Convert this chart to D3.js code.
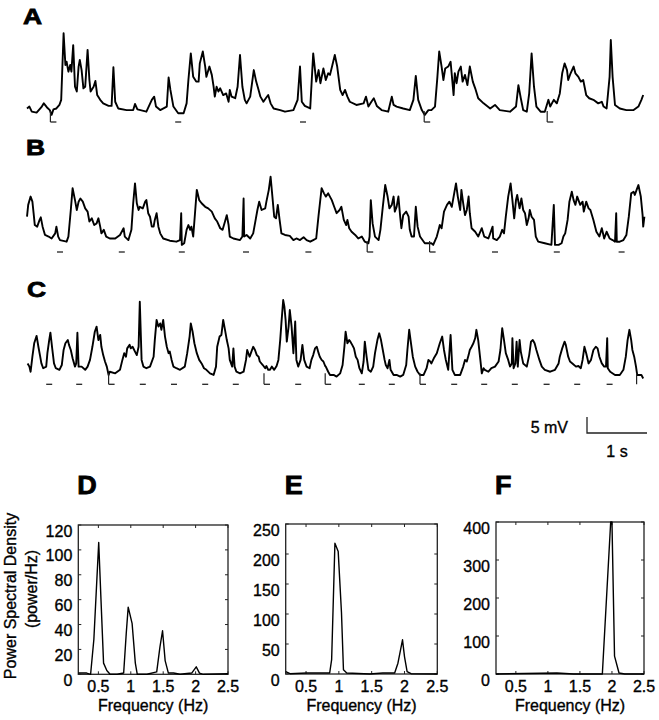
<!DOCTYPE html>
<html>
<head>
<meta charset="utf-8">
<script src="https://cdn.jsdelivr.net/npm/d3@7"></script>
<style>
  body { margin: 0; background: #fff; }
  text { font-family: "Liberation Sans", Arial, sans-serif; fill: #000; stroke: #000; stroke-width: 0.35px; }
  text.panel { stroke-width: 0.8px; }
</style>
</head>
<body>
<svg id="fig" width="659" height="720"></svg>
<script>
// membrane potential traces: [time (s), mV above resting level]
const traceA = [[0.00,1.1],[0.04,1.7],[0.08,0.1],[0.16,-0.2],[0.24,1.5],[0.28,2.7],[0.33,1.5],[0.38,0.6],[0.41,-0.9],[0.44,0.8],[0.49,1.1],[0.54,2.2],[0.57,3.8],[0.61,24.6],[0.64,14.7],[0.66,15.7],[0.69,12.6],[0.72,14.7],[0.74,12.6],[0.77,20.9],[0.80,7.9],[0.83,6.4],[0.86,14.2],[0.88,16.3],[0.91,13.1],[0.94,7.4],[0.97,7.9],[1.01,19.4],[1.04,10.0],[1.06,6.4],[1.11,7.9],[1.14,9.7],[1.17,5.3],[1.22,3.8],[1.27,2.7],[1.36,1.9],[1.41,1.9],[1.44,14.0],[1.47,3.2],[1.52,1.1],[1.66,0.6],[1.77,0.6],[1.80,2.5],[1.84,0.8],[1.99,0.1],[2.08,3.8],[2.12,4.8],[2.15,1.7],[2.22,0.6],[2.33,1.7],[2.36,10.8],[2.39,6.9],[2.44,1.7],[2.52,-0.4],[2.61,-0.4],[2.66,2.7],[2.69,10.0],[2.73,18.3],[2.77,11.0],[2.82,9.5],[2.86,9.5],[2.88,15.2],[2.93,18.9],[2.97,14.2],[2.99,11.0],[3.04,14.2],[3.08,11.6],[3.11,7.9],[3.13,4.8],[3.16,7.9],[3.19,6.4],[3.22,7.4],[3.27,5.3],[3.32,5.8],[3.36,3.2],[3.38,6.9],[3.41,4.8],[3.47,4.3],[3.51,7.9],[3.55,17.8],[3.59,7.9],[3.63,3.8],[3.66,2.7],[3.72,4.8],[3.78,13.1],[3.82,9.5],[3.86,6.9],[3.89,4.8],[3.94,3.2],[3.98,4.3],[4.02,5.3],[4.06,2.7],[4.11,1.1],[4.22,0.6],[4.30,0.1],[4.44,0.6],[4.51,3.8],[4.55,14.2],[4.58,3.2],[4.63,1.9],[4.72,1.1],[4.77,18.3],[4.82,9.5],[4.86,13.1],[4.89,9.0],[4.94,13.6],[4.98,10.0],[5.02,12.1],[5.05,11.6],[5.09,14.7],[5.13,17.8],[5.17,14.2],[5.22,6.9],[5.26,5.3],[5.30,6.9],[5.34,4.8],[5.38,3.2],[5.49,2.2],[5.61,2.7],[5.65,4.8],[5.69,1.7],[5.74,3.2],[5.78,4.3],[5.83,1.9],[5.91,0.6],[6.02,0.1],[6.08,4.8],[6.11,2.2],[6.16,1.7],[6.27,1.1],[6.38,0.6],[6.44,3.8],[6.48,11.3],[6.52,3.8],[6.58,0.6],[6.63,-0.9],[6.69,0.6],[6.74,0.6],[6.80,1.7],[6.84,11.0],[6.87,18.9],[6.91,14.2],[6.94,10.0],[6.97,13.6],[7.02,14.2],[7.06,15.7],[7.11,5.3],[7.13,12.1],[7.16,9.0],[7.19,12.6],[7.23,14.2],[7.26,9.5],[7.30,11.6],[7.34,8.4],[7.38,14.2],[7.43,9.5],[7.47,7.4],[7.52,4.3],[7.61,2.7],[7.72,1.1],[7.80,2.2],[7.88,0.6],[8.05,0.1],[8.15,1.7],[8.19,8.4],[8.23,4.3],[8.27,0.6],[8.33,0.1],[8.37,5.8],[8.41,18.3],[8.45,7.9],[8.49,1.7],[8.56,0.1],[8.63,0.1],[8.69,3.8],[8.72,1.7],[8.78,3.8],[8.83,2.7],[8.88,5.8],[8.92,12.1],[8.96,15.2],[9.00,13.1],[9.02,10.0],[9.06,12.1],[9.11,14.2],[9.14,12.1],[9.19,11.0],[9.23,9.5],[9.27,10.0],[9.32,5.3],[9.37,4.3],[9.44,3.8],[9.52,2.7],[9.58,3.2],[9.61,1.7],[9.66,1.1],[9.71,11.0],[9.73,22.5],[9.76,11.0],[9.80,2.2],[9.88,1.1],[9.99,0.6],[10.11,0.6],[10.19,1.7],[10.24,3.8],[10.27,5.3]];

const traceB = [[0.00,7.9],[0.02,11.6],[0.06,14.2],[0.09,12.6],[0.11,9.0],[0.13,5.3],[0.17,4.8],[0.21,6.9],[0.23,7.7],[0.26,4.8],[0.30,2.2],[0.36,1.7],[0.41,1.1],[0.47,2.7],[0.49,4.8],[0.52,1.7],[0.55,0.6],[0.66,0.1],[0.69,1.7],[0.73,10.0],[0.76,16.8],[0.80,13.1],[0.83,10.0],[0.86,12.6],[0.89,13.6],[0.93,12.6],[0.97,10.5],[1.01,9.5],[1.04,6.4],[1.08,7.4],[1.12,5.3],[1.16,5.8],[1.19,7.4],[1.22,4.8],[1.24,2.7],[1.28,3.8],[1.32,1.7],[1.38,1.1],[1.47,1.1],[1.55,2.2],[1.61,4.3],[1.63,1.7],[1.69,0.6],[1.74,3.8],[1.77,12.1],[1.80,18.3],[1.83,12.1],[1.86,10.0],[1.88,11.0],[1.93,10.5],[1.97,12.6],[1.99,13.1],[2.02,9.0],[2.05,7.9],[2.08,4.8],[2.11,4.8],[2.13,6.9],[2.16,9.0],[2.19,4.8],[2.22,2.7],[2.27,1.1],[2.38,0.4],[2.49,0.1],[2.55,0.6],[2.57,9.0],[2.58,-0.9],[2.62,-0.4],[2.66,3.8],[2.69,5.3],[2.72,3.8],[2.74,4.8],[2.77,1.7],[2.80,9.0],[2.83,16.3],[2.87,13.1],[2.91,12.1],[2.97,11.0],[3.02,10.5],[3.08,9.5],[3.13,7.4],[3.17,6.4],[3.22,4.3],[3.26,3.8],[3.30,6.4],[3.33,8.4],[3.36,5.3],[3.38,1.7],[3.44,1.1],[3.55,0.6],[3.59,1.7],[3.61,13.6],[3.62,1.7],[3.66,2.2],[3.72,1.1],[3.77,2.7],[3.80,5.8],[3.84,10.0],[3.87,12.6],[3.91,10.0],[3.97,10.5],[3.99,12.6],[4.03,16.3],[4.06,20.4],[4.09,14.2],[4.12,7.9],[4.15,7.4],[4.18,11.6],[4.21,6.9],[4.24,2.7],[4.30,2.2],[4.38,1.9],[4.44,0.6],[4.49,1.1],[4.55,0.6],[4.61,1.5],[4.66,0.6],[4.72,0.1],[4.77,0.6],[4.82,1.1],[4.86,8.4],[4.91,16.8],[4.95,15.2],[4.98,14.2],[5.02,15.2],[5.08,13.1],[5.12,11.0],[5.16,9.0],[5.21,10.0],[5.24,11.0],[5.28,6.9],[5.32,5.3],[5.34,6.9],[5.37,4.3],[5.41,3.2],[5.47,2.2],[5.52,1.1],[5.58,1.7],[5.63,0.1],[5.69,-0.4],[5.71,1.7],[5.73,13.1],[5.76,5.8],[5.80,1.7],[5.86,0.6],[5.89,3.8],[5.93,11.0],[5.97,17.8],[6.01,14.2],[6.04,10.5],[6.08,11.6],[6.11,14.2],[6.13,9.5],[6.16,11.0],[6.19,14.2],[6.22,7.9],[6.24,4.3],[6.27,8.4],[6.32,9.5],[6.36,7.9],[6.38,3.8],[6.41,1.7],[6.45,1.7],[6.48,11.0],[6.51,4.8],[6.55,1.7],[6.63,-0.4],[6.74,-0.4],[6.77,-0.9],[6.83,1.7],[6.86,3.8],[6.88,5.3],[6.91,4.3],[6.95,9.5],[7.00,11.6],[7.04,12.6],[7.08,11.0],[7.12,15.2],[7.15,18.3],[7.18,14.2],[7.22,10.0],[7.24,16.3],[7.27,12.1],[7.30,8.4],[7.33,10.0],[7.36,14.2],[7.38,9.0],[7.41,4.3],[7.47,3.2],[7.52,1.7],[7.58,4.3],[7.62,1.7],[7.69,1.1],[7.76,4.8],[7.77,1.1],[7.83,0.6],[7.88,1.7],[7.92,3.8],[7.95,2.7],[7.98,7.9],[8.02,14.2],[8.06,18.3],[8.09,13.1],[8.12,7.4],[8.15,13.1],[8.17,14.7],[8.21,10.5],[8.24,13.6],[8.27,10.0],[8.30,9.0],[8.33,5.3],[8.36,7.4],[8.38,10.0],[8.41,7.9],[8.45,6.9],[8.48,1.7],[8.52,0.1],[8.63,-0.4],[8.74,-0.9],[8.78,11.6],[8.80,-0.9],[8.86,-0.9],[8.91,-0.4],[8.94,1.7],[8.97,2.7],[9.01,6.9],[9.04,12.6],[9.08,15.7],[9.11,13.1],[9.14,11.6],[9.17,14.2],[9.22,11.6],[9.26,12.6],[9.28,9.5],[9.32,12.6],[9.36,10.5],[9.39,10.0],[9.44,6.9],[9.49,3.2],[9.54,1.7],[9.58,4.3],[9.62,1.1],[9.66,3.2],[9.71,1.1],[9.76,0.6],[9.80,0.1],[9.82,9.0],[9.83,0.1],[9.88,0.1],[9.94,0.6],[9.99,2.2],[10.03,7.9],[10.07,15.2],[10.11,15.7],[10.13,14.7],[10.16,16.3],[10.19,17.8],[10.23,14.2],[10.26,8.4],[10.27,4.8],[10.29,7.9]];

const traceC = [[0.01,3.4],[0.04,2.4],[0.06,0.8],[0.09,5.5],[0.12,9.7],[0.16,12.0],[0.19,8.6],[0.22,5.5],[0.24,3.4],[0.27,1.9],[0.32,2.4],[0.34,6.6],[0.37,10.7],[0.39,13.0],[0.42,8.1],[0.45,3.4],[0.48,1.9],[0.54,1.4],[0.58,2.9],[0.61,7.6],[0.64,9.7],[0.68,10.7],[0.70,9.2],[0.73,7.6],[0.76,5.0],[0.80,2.4],[0.82,3.4],[0.84,13.0],[0.86,2.4],[0.91,2.4],[0.97,1.4],[1.01,2.4],[1.05,4.5],[1.09,8.6],[1.13,13.3],[1.16,14.9],[1.19,10.7],[1.22,12.3],[1.24,8.6],[1.27,6.0],[1.30,4.0],[1.33,2.4],[1.36,-0.2],[1.38,0.8],[1.47,0.3],[1.55,1.4],[1.59,4.5],[1.62,6.6],[1.65,5.5],[1.67,8.1],[1.71,9.2],[1.73,8.1],[1.76,8.6],[1.80,7.1],[1.83,6.0],[1.86,8.6],[1.88,22.7],[1.91,4.5],[1.94,2.4],[1.99,1.9],[2.05,2.4],[2.11,5.5],[2.13,10.7],[2.16,17.0],[2.19,14.9],[2.22,15.9],[2.24,13.9],[2.27,17.0],[2.30,11.8],[2.33,8.6],[2.36,6.6],[2.38,7.1],[2.41,4.5],[2.44,2.4],[2.49,1.9],[2.55,1.4],[2.63,2.4],[2.67,6.6],[2.71,11.8],[2.73,15.9],[2.76,13.3],[2.79,9.7],[2.83,6.6],[2.87,4.5],[2.91,3.4],[2.95,1.9],[2.99,1.4],[3.05,0.3],[3.11,-0.2],[3.15,2.4],[3.17,8.6],[3.21,11.8],[3.24,12.3],[3.27,17.0],[3.30,13.9],[3.33,10.7],[3.36,8.1],[3.38,4.5],[3.42,2.4],[3.44,8.1],[3.46,2.4],[3.49,0.8],[3.55,0.3],[3.61,0.8],[3.65,4.5],[3.67,7.6],[3.71,5.5],[3.74,7.1],[3.77,8.6],[3.80,7.6],[3.83,6.0],[3.86,5.5],[3.88,4.0],[3.93,2.9],[3.97,1.9],[3.99,2.6],[4.02,1.4],[4.05,1.4],[4.08,2.4],[4.12,1.4],[4.16,2.6],[4.19,4.5],[4.22,10.7],[4.24,15.9],[4.27,23.2],[4.29,21.1],[4.31,17.0],[4.33,10.2],[4.36,14.9],[4.38,20.1],[4.41,14.9],[4.44,6.6],[4.47,16.5],[4.49,4.5],[4.52,2.4],[4.56,4.5],[4.59,9.2],[4.62,4.5],[4.66,2.4],[4.71,1.9],[4.74,4.5],[4.77,6.0],[4.80,8.1],[4.83,8.6],[4.86,6.6],[4.88,5.5],[4.91,4.5],[4.94,4.0],[4.97,2.6],[4.98,2.4],[5.02,0.8],[5.05,-0.2],[5.11,-0.2],[5.16,-0.7],[5.22,0.3],[5.26,2.9],[5.29,8.6],[5.31,13.3],[5.34,9.7],[5.37,10.7],[5.39,10.2],[5.42,9.2],[5.45,8.1],[5.48,5.5],[5.51,4.5],[5.54,1.9],[5.58,0.3],[5.61,4.0],[5.63,10.2],[5.66,5.5],[5.69,1.4],[5.73,0.8],[5.77,2.4],[5.80,6.6],[5.84,10.7],[5.87,12.8],[5.90,10.7],[5.93,7.6],[5.96,4.5],[5.98,2.9],[6.01,1.9],[6.04,4.5],[6.06,1.4],[6.11,-0.2],[6.16,-0.2],[6.22,-0.7],[6.27,-0.2],[6.32,2.9],[6.34,7.6],[6.37,13.9],[6.40,9.7],[6.43,5.5],[6.47,2.4],[6.51,0.8],[6.55,-0.2],[6.61,-0.2],[6.66,1.9],[6.69,4.5],[6.72,4.0],[6.74,3.4],[6.78,5.0],[6.83,6.6],[6.88,9.7],[6.92,11.8],[6.95,7.6],[6.98,4.5],[7.02,1.4],[7.06,12.3],[7.09,1.4],[7.13,-0.2],[7.22,-0.2],[7.27,2.4],[7.30,4.5],[7.33,4.0],[7.36,6.0],[7.38,7.6],[7.41,8.6],[7.44,9.7],[7.47,11.3],[7.49,13.9],[7.52,10.7],[7.55,5.5],[7.58,0.3],[7.61,1.9],[7.63,1.4],[7.69,0.8],[7.74,1.9],[7.80,2.4],[7.86,4.0],[7.89,7.6],[7.92,14.4],[7.95,10.7],[7.98,6.6],[8.02,4.5],[8.05,2.4],[8.08,3.4],[8.09,11.3],[8.11,1.9],[8.14,3.4],[8.16,10.2],[8.18,2.4],[8.21,10.7],[8.23,7.1],[8.27,3.4],[8.33,2.4],[8.37,6.0],[8.40,10.2],[8.43,10.7],[8.46,9.7],[8.49,7.6],[8.54,4.5],[8.58,2.4],[8.63,1.4],[8.72,0.8],[8.80,1.4],[8.86,3.4],[8.88,5.5],[8.92,8.1],[8.96,10.2],[8.98,9.2],[9.02,5.5],[9.05,4.0],[9.09,3.4],[9.15,2.4],[9.19,2.6],[9.23,1.9],[9.26,4.5],[9.29,8.6],[9.32,6.6],[9.36,3.4],[9.40,4.5],[9.44,7.6],[9.48,8.6],[9.51,8.1],[9.54,5.5],[9.58,3.4],[9.62,2.4],[9.65,2.4],[9.67,11.3],[9.68,1.9],[9.72,0.8],[9.80,-0.2],[9.88,-0.2],[9.94,1.4],[9.98,5.5],[10.01,10.7],[10.04,13.9],[10.07,10.7],[10.09,7.6],[10.12,5.5],[10.15,2.4],[10.17,-0.2],[10.21,-0.2],[10.24,-0.2],[10.27,-1.3]];

// stimulus marks under each trace (s); stems = marks joined to the trace
const stimA = [0.44, 2.52, 4.60, 6.67, 8.72];
const stemA = [0.44, 6.67, 8.72];
const stimB = [0.55, 1.58, 2.58, 3.65, 4.69, 5.72, 6.76, 7.80, 8.83, 9.91];
const stemB = [5.72, 6.76];
const stimC = [0.37, 0.87, 1.41, 1.93, 2.45, 2.97, 3.48, 4.00, 4.52, 5.02, 5.58, 6.08, 6.60, 7.12, 7.62, 8.13, 8.66, 9.17, 9.71];
const stemC = [1.41, 4.00, 5.02, 6.60, 10.21];

// power spectra: [frequency (Hz), power/Hz]
const specD = [[0.19,1],[0.32,1],[0.38,0],[0.43,28],[0.505,106],[0.54,60],[0.58,9],[0.63,3],[0.68,0],[0.79,0],[0.89,1],[0.93,33],[0.96,54],[1.02,41],[1.07,9],[1.10,0],[1.25,0],[1.40,2],[1.45,22],[1.49,35],[1.53,11],[1.58,1],[1.66,1],[1.76,0],[1.94,1],[2.01,6],[2.06,1],[2.12,0],[2.50,0.5]];
const specE = [[0.19,4],[0.255,0.5],[0.51,1.7],[0.86,1.7],[0.89,24],[0.94,218],[0.99,204],[1.04,102],[1.07,7],[1.12,1.7],[1.47,0],[1.67,1.7],[1.85,1.7],[1.90,18],[1.97,57],[2.00,29],[2.04,4],[2.10,0.5],[2.50,0]];
const specF = [[0.19,0],[1.14,2.6],[1.40,0],[1.85,0],[1.98,400],[2.00,400],[2.04,47],[2.11,2.6],[2.20,0],[2.50,0]];

const freqTicks = [0.5, 1, 1.5, 2, 2.5];
const ticksD = [0, 20, 40, 60, 80, 100, 120];
const ticksE = [0, 50, 100, 150, 200, 250];
const ticksF = [0, 100, 200, 300, 400];

const svg = d3.select("#fig");

// ---- traces ----
const x = d3.scaleLinear().domain([0, 10.3]).range([27, 645]);
const mvPx = 3.2; // px per mV
function traceScale(base) {
  return d3.scaleLinear().domain([0, 25]).range([base, base - 25 * mvPx]);
}

function drawTrace(data, base, stims, stems, label, labelPos) {
  const y = traceScale(base);
  const line = d3.line().x(d => x(d[0])).y(d => y(d[1]));
  svg.append("path")
    .attr("d", line(data))
    .attr("fill", "none")
    .attr("stroke", "#000")
    .attr("stroke-width", 1.9)
    .attr("stroke-linejoin", "round");

  const markY = y(0) + 10;
  svg.selectAll(null)
    .data(stims)
    .enter()
    .append("line")
    .attr("x1", d => x(d) - 3)
    .attr("x2", d => x(d) + 3)
    .attr("y1", markY)
    .attr("y2", markY)
    .attr("stroke", "#222")
    .attr("stroke-width", 1.3);

  svg.selectAll(null)
    .data(stems)
    .enter()
    .append("line")
    .attr("x1", d => x(d) - 3)
    .attr("x2", d => x(d) - 3)
    .attr("y1", y(0) - 1)
    .attr("y2", markY)
    .attr("stroke", "#222")
    .attr("stroke-width", 1.2);

  svg.append("text")
    .attr("class", "panel")
    .attr("transform", `translate(${labelPos[0]},${labelPos[1]}) scale(1.2,1)`)
    .attr("font-size", 22)
    .attr("font-weight", "bold")
    .text(label);
}

drawTrace(traceA, 112, stimA, stemA, "A", [23, 23.5]);
drawTrace(traceB, 242, stimB, stemB, "B", [26, 155]);
drawTrace(traceC, 374.3, stimC, stemC, "C", [27, 297]);

// scale bar: 5 mV / 1 s
const sbX = 587, sbY = 433;
svg.append("path")
  .attr("d", `M${sbX},${sbY - 5 * mvPx}V${sbY}H${sbX + x(1) - x(0)}`)
  .attr("fill", "none")
  .attr("stroke", "#222")
  .attr("stroke-width", 1.3);
svg.append("text").attr("x", 568).attr("y", 433).attr("text-anchor", "end")
  .attr("font-size", 16).text("5 mV");
svg.append("text").attr("x", 617).attr("y", 457).attr("text-anchor", "middle")
  .attr("font-size", 16).text("1 s");

// ---- spectra ----
function spectrum(data, box, yMax, yTicks, label) {
  const fx = d3.scaleLinear().domain([0.19, 2.5]).range([box.left, box.right]);
  const fy = d3.scaleLinear().domain([0, yMax]).range([box.bottom, box.top]);
  const g = svg.append("g");

  g.append("rect")
    .attr("x", box.left).attr("y", box.top)
    .attr("width", box.right - box.left).attr("height", box.bottom - box.top)
    .attr("fill", "none").attr("stroke", "#222").attr("stroke-width", 1.3);

  // inward ticks, all four sides
  g.selectAll(null).data(freqTicks).enter().append("path")
    .attr("d", d => `M${fx(d)},${box.bottom}v-3M${fx(d)},${box.top}v3`)
    .attr("stroke", "#222").attr("stroke-width", 1);
  g.selectAll(null).data(yTicks).enter().append("path")
    .attr("d", d => `M${box.left},${fy(d)}h3M${box.right},${fy(d)}h-3`)
    .attr("stroke", "#222").attr("stroke-width", 1);

  g.selectAll(null).data(freqTicks).enter().append("text")
    .attr("x", d => fx(d)).attr("y", box.bottom + 18)
    .attr("text-anchor", "middle").attr("font-size", 16)
    .text(d => d);
  g.selectAll(null).data(yTicks).enter().append("text")
    .attr("x", box.left - 6).attr("y", d => fy(d) + 11.5)
    .attr("text-anchor", "end").attr("font-size", 16)
    .text(d => d);

  g.append("text")
    .attr("x", (box.left + box.right) / 2).attr("y", 711)
    .attr("text-anchor", "middle").attr("font-size", 16)
    .text("Frequency (Hz)");

  g.append("path")
    .attr("d", d3.line().x(d => fx(d[0])).y(d => fy(Math.min(d[1], yMax)))(data))
    .attr("fill", "none").attr("stroke", "#000").attr("stroke-width", 1.4)
    .attr("stroke-linejoin", "round");

  g.append("text")
    .attr("class", "panel")
    .attr("transform", `translate(${box.left - 1},493.5) scale(1.08,1)`)
    .attr("font-size", 25).attr("font-weight", "bold")
    .text(label);
}

spectrum(specD, {left: 78.3, right: 228, top: 525, bottom: 674.3}, 120, ticksD, "D");
spectrum(specE, {left: 285.7, right: 437.3, top: 524, bottom: 674}, 250, ticksE, "E");
spectrum(specF, {left: 496, right: 644, top: 522, bottom: 674}, 400, ticksF, "F");

svg.append("text")
  .attr("transform", "translate(15.5,596) rotate(-90)")
  .attr("text-anchor", "middle").attr("font-size", 16)
  .text("Power Spectral Density");
svg.append("text")
  .attr("transform", "translate(37,589) rotate(-90)")
  .attr("text-anchor", "middle").attr("font-size", 16)
  .text("(power/Hz)");
</script>
</body>
</html>
